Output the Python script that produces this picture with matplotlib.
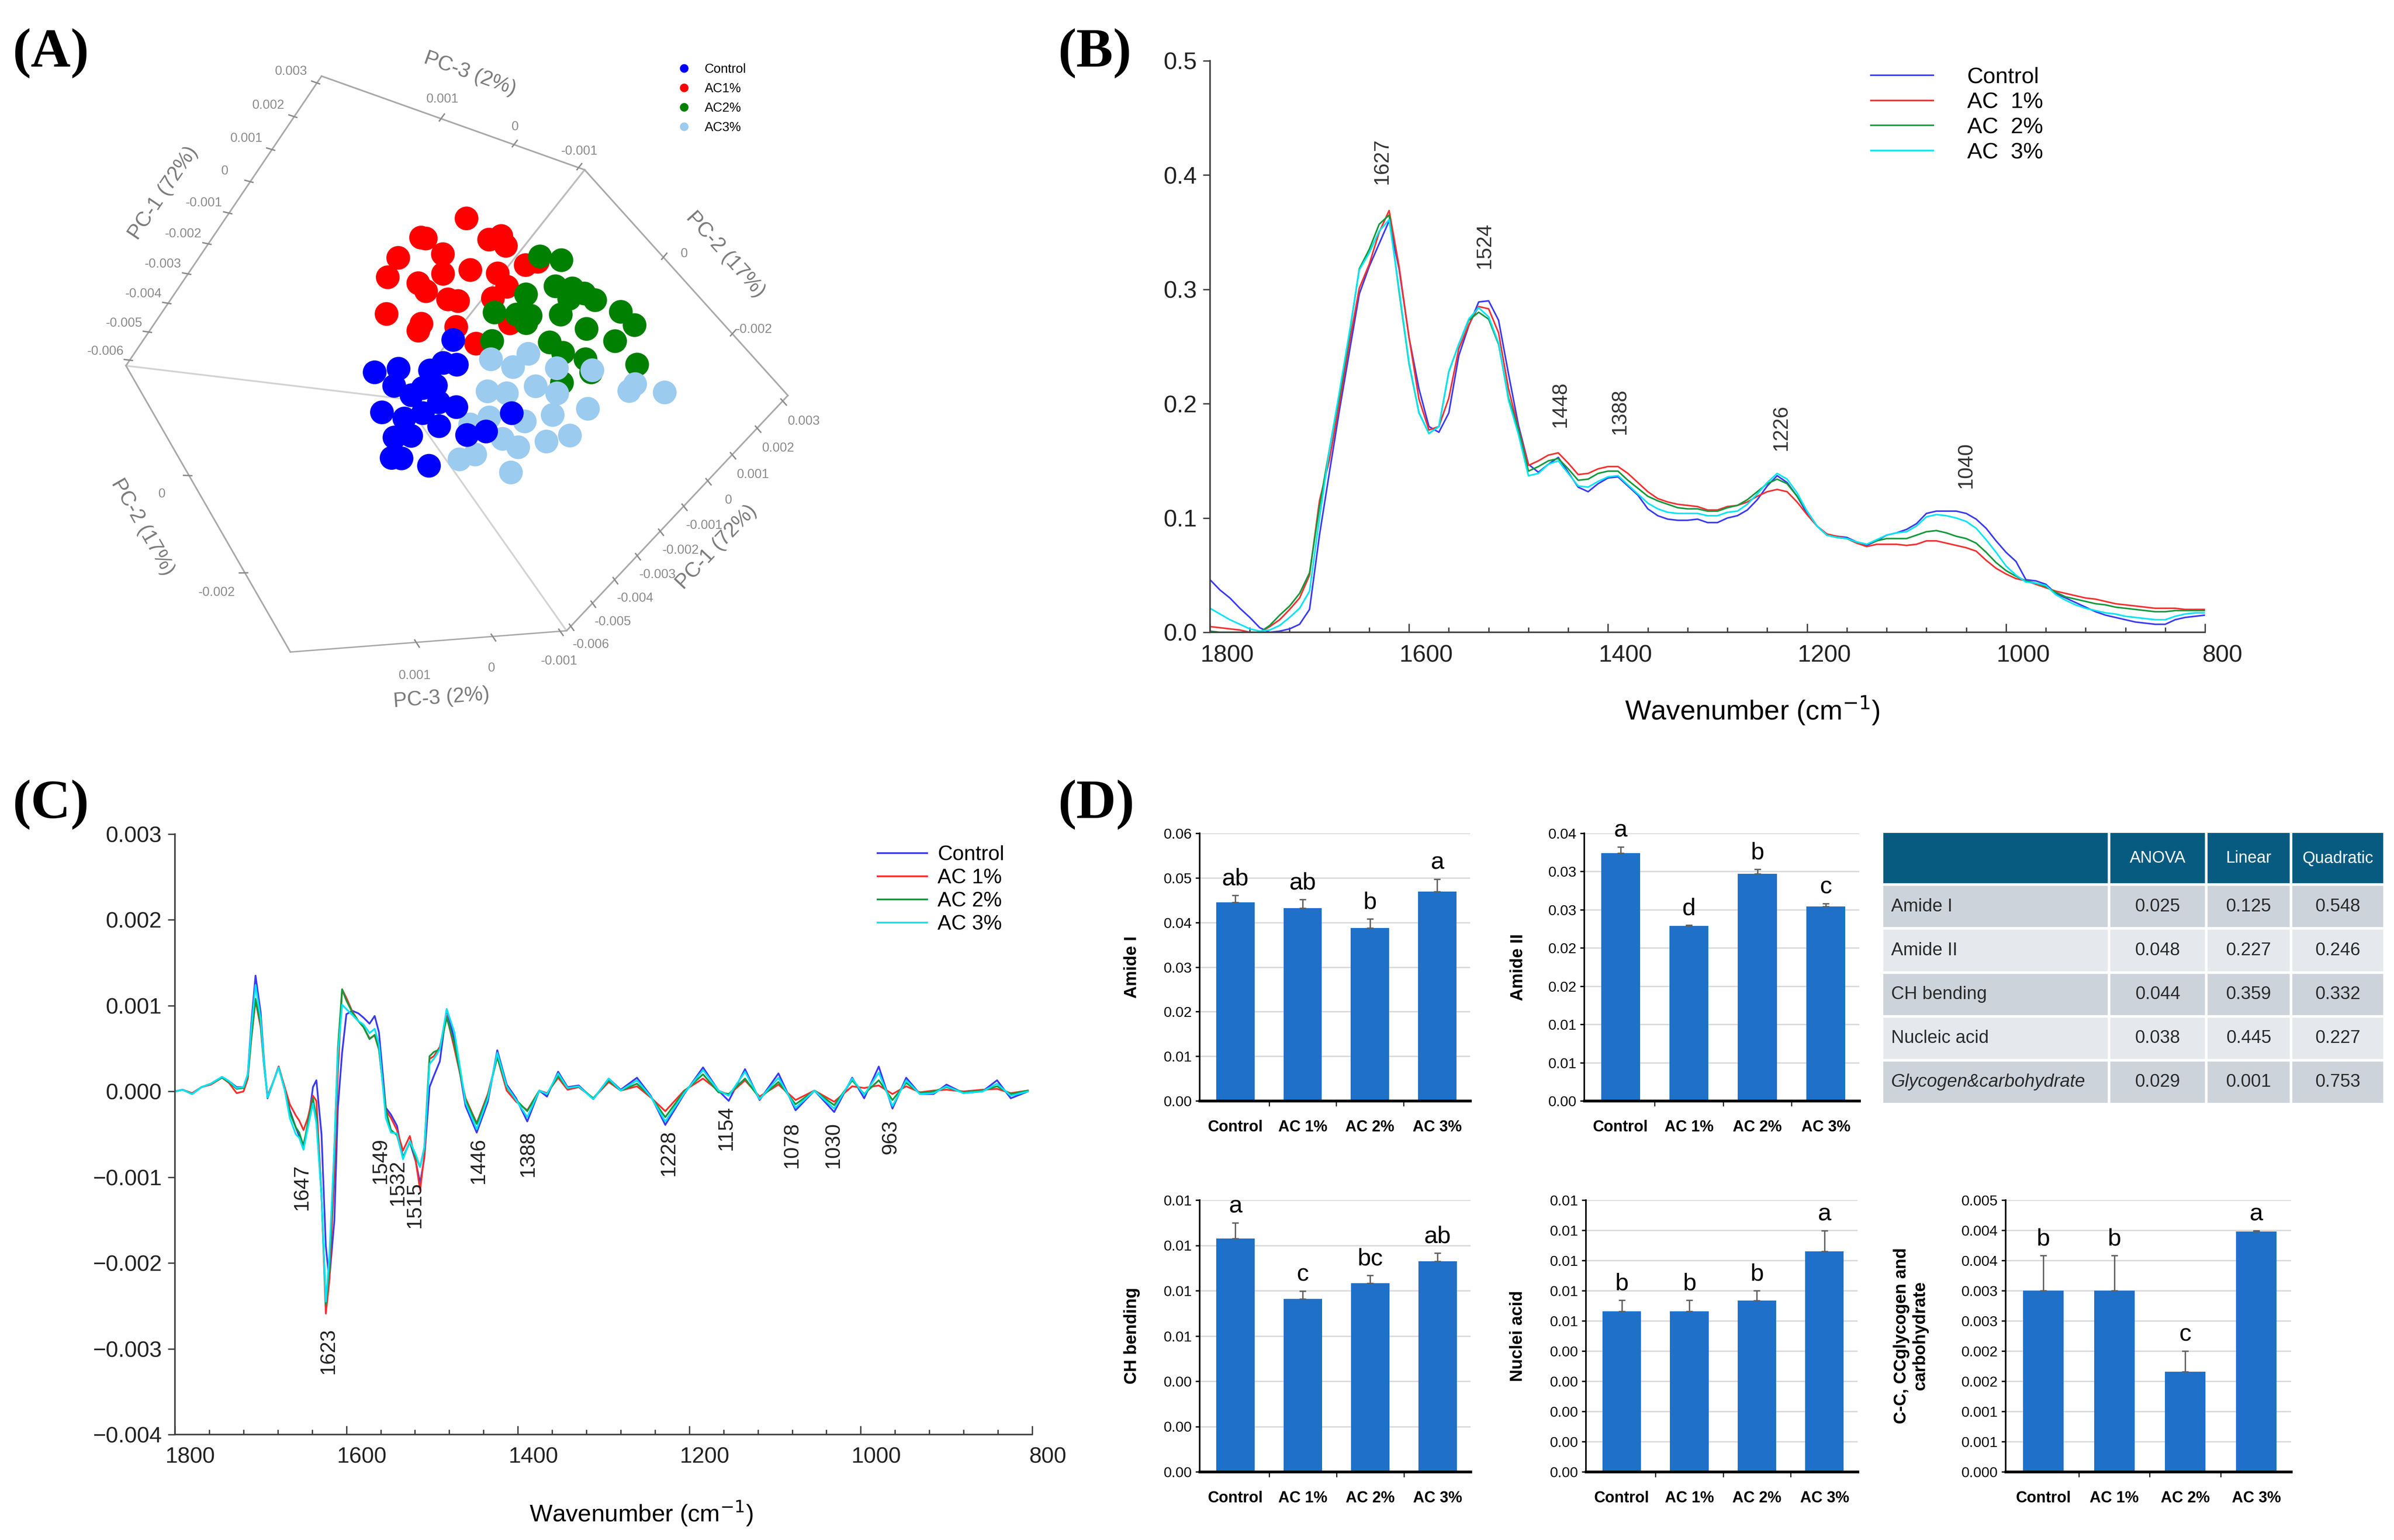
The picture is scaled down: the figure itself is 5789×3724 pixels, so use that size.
import numpy as np
import matplotlib
matplotlib.use("Agg")
import matplotlib.pyplot as plt
from matplotlib import transforms
from matplotlib.lines import Line2D
from matplotlib.table import Table
from matplotlib.ticker import MultipleLocator, FuncFormatter, FixedLocator
from decimal import Decimal, ROUND_HALF_UP

plt.rcParams["font.family"] = ["Liberation Sans", "DejaVu Sans"]

W, H = 5789, 3724

BLUE, RED, GREEN, CYAN = "#3a3af5", "#f53030", "#129a3c", "#00e4f5"
BAR = "#1f70c8"

# ---------------- (A) PCA scores (PC-1, PC-2, PC-3) ----------------
ctrl_pc1 = [-0.00170, -0.00416, -0.00363, -0.00301, -0.00237, -0.00191, -0.00490, -0.00396,
            -0.00336, -0.00281, -0.00441, -0.00382, -0.00302, -0.00503, -0.00437, -0.00364,
            -0.00326, -0.00256, -0.00549, -0.00504, -0.00463, -0.00177, -0.00407, -0.00321]
ctrl_pc2 = [0.00080, 0.00158, 0.00135, 0.00092, 0.00066, 0.00028, 0.00104, 0.00090,
            0.00067, 0.00035, 0.00057, 0.00033, -0.00001, 0.00048, 0.00009, -0.00011,
            -0.00055, -0.00092, 0.00025, -0.00005, -0.00047, -0.00096, 0.00119, 0.00021]
ctrl_pc3 = [0.0001, 0.0002, 0.0001, 0.0000, 0.0001, 0.0002, 0.0001, 0.0000,
            0.0001, 0.0002, 0.0001, 0.0001, 0.0000, 0.0001, 0.0002, 0.0001,
            0.0000, 0.0001, 0.0001, 0.0002, 0.0001, 0.0000, 0.0001, 0.0001]

ac1_pc1 = [0.00176, 0.00037, 0.00056, 0.00062, 0.00175, 0.00219, 0.00224, 0.00095, 0.00135,
           0.00220, 0.00250, -0.00091, -0.00060, -0.00041, -0.00005, 0.00029, 0.00082, 0.00145,
           -0.00175, -0.00144, -0.00093, -0.00034, -0.00018, 0.00076, 0.00028, -0.00032]
ac1_pc2 = [0.00114, 0.00172, 0.00150, 0.00108, 0.00066, 0.00037, 0.00004, 0.00044, 0.00011,
           -0.00035, -0.00049, 0.00156, 0.00127, 0.00089, 0.00043, 0.00011, -0.00012, -0.00033,
           0.00126, 0.00066, 0.00041, -0.00004, -0.00055, -0.00068, 0.00083, 0.00163]
ac1_pc3 = [0.0008, 0.0007, 0.0009, 0.0008, 0.0007, 0.0008, 0.0009, 0.0008, 0.0007,
           0.0008, 0.0008, 0.0009, 0.0007, 0.0008, 0.0008, 0.0009, 0.0007, 0.0008,
           0.0008, 0.0007, 0.0009, 0.0008, 0.0008, 0.0007, 0.0008, 0.0009]

ac2_pc1 = [0.00182, 0.00232, 0.00083, 0.00150, 0.00194, 0.00210, 0.00232, 0.00253,
           0.00247, -0.00021, 0.00026, 0.00068, 0.00123, 0.00141, 0.00191, 0.00196,
           -0.00064, 0.00032, 0.00048, 0.00098, 0.00006, 0.00100, 0.00050, 0.00169]
ac2_pc2 = [0.00047, -0.00004, 0.00021, -0.00002, -0.00043, -0.00067, -0.00103, -0.00142,
           -0.00166, 0.00048, 0.00010, -0.00026, -0.00058, -0.00102, -0.00169, -0.00227,
           0.00002, -0.00016, -0.00097, -0.00149, -0.00144, -0.00184, -0.00076, -0.00051]
ac2_pc3 = [0.0001, 0.0002, 0.0001, 0.0000, 0.0001, 0.0001, 0.0002, 0.0001,
           0.0000, 0.0001, 0.0001, 0.0002, 0.0001, 0.0000, 0.0001, 0.0001,
           0.0002, 0.0001, 0.0000, 0.0001, 0.0001, 0.0002, 0.0001, 0.0001]

ac3_pc1 = [-0.00129, -0.00091, -0.00018, 0.00007, -0.00211, -0.00153, -0.00073, -0.00023,
           0.00081, 0.00111, 0.00193, -0.00299, -0.00223, -0.00161, -0.00085, -0.00009,
           -0.00082, -0.00146, -0.00207, -0.00245, -0.00285, -0.00407, -0.00341, 0.00147]
ac3_pc2 = [0.00006, -0.00039, -0.00058, -0.00107, -0.00018, -0.00063, -0.00098, -0.00150,
           -0.00161, -0.00227, -0.00286, -0.00046, -0.00079, -0.00126, -0.00159, -0.00191,
           -0.00209, -0.00183, -0.00160, -0.00115, -0.00170, -0.00063, -0.00093, -0.00237]
ac3_pc3 = [0.0000, 0.0000, 0.0001, 0.0000, -0.0001, 0.0000, 0.0000, 0.0001,
           0.0000, -0.0001, 0.0000, 0.0000, 0.0001, 0.0000, 0.0000, -0.0001,
           0.0000, 0.0000, 0.0001, 0.0000, 0.0000, -0.0001, 0.0000, 0.0000]

# ---------------- (B) mean absorbance spectra ----------------
wn_b = np.arange(1800, 799, -10)
ctrl_b = [0.046, 0.037, 0.030, 0.021, 0.013, 0.004, 0.000, 0.001, 0.003, 0.007,
          0.020, 0.085, 0.140, 0.194, 0.245, 0.296, 0.320, 0.340, 0.360, 0.318,
          0.258, 0.213, 0.180, 0.175, 0.192, 0.242, 0.268, 0.289, 0.290, 0.273,
          0.226, 0.181, 0.147, 0.140, 0.147, 0.153, 0.140, 0.127, 0.123, 0.130,
          0.135, 0.136, 0.128, 0.120, 0.108, 0.102, 0.099, 0.098, 0.098, 0.099,
          0.096, 0.096, 0.100, 0.102, 0.107, 0.116, 0.128, 0.137, 0.131, 0.119,
          0.104, 0.093, 0.085, 0.084, 0.083, 0.079, 0.076, 0.080, 0.085, 0.087,
          0.090, 0.095, 0.104, 0.106, 0.106, 0.106, 0.104, 0.099, 0.091, 0.080,
          0.070, 0.062, 0.046, 0.045, 0.042, 0.034, 0.030, 0.026, 0.022, 0.018,
          0.015, 0.013, 0.011, 0.009, 0.008, 0.007, 0.007, 0.011, 0.013, 0.014,
          0.015]
ac1_b = [0.005, 0.004, 0.003, 0.002, 0.000, 0.000, 0.005, 0.011, 0.020, 0.030,
         0.050, 0.115, 0.151, 0.200, 0.253, 0.301, 0.322, 0.350, 0.369, 0.320,
         0.258, 0.204, 0.177, 0.180, 0.205, 0.248, 0.269, 0.285, 0.283, 0.262,
         0.213, 0.178, 0.146, 0.150, 0.155, 0.157, 0.148, 0.138, 0.139, 0.143,
         0.145, 0.145, 0.139, 0.131, 0.123, 0.117, 0.114, 0.112, 0.111, 0.110,
         0.107, 0.107, 0.110, 0.111, 0.114, 0.119, 0.123, 0.125, 0.123, 0.114,
         0.103, 0.093, 0.086, 0.084, 0.082, 0.078, 0.075, 0.077, 0.077, 0.077,
         0.076, 0.077, 0.080, 0.080, 0.078, 0.076, 0.074, 0.071, 0.063, 0.056,
         0.051, 0.047, 0.045, 0.042, 0.039, 0.036, 0.034, 0.032, 0.030, 0.029,
         0.027, 0.025, 0.024, 0.023, 0.022, 0.021, 0.021, 0.021, 0.020, 0.020,
         0.020]
ac2_b = [0.001, 0.000, 0.000, 0.000, 0.000, 0.000, 0.006, 0.015, 0.023, 0.034,
         0.052, 0.110, 0.160, 0.207, 0.260, 0.318, 0.335, 0.357, 0.365, 0.298,
         0.235, 0.192, 0.174, 0.180, 0.228, 0.252, 0.273, 0.280, 0.274, 0.252,
         0.205, 0.177, 0.141, 0.145, 0.150, 0.152, 0.143, 0.133, 0.134, 0.139,
         0.141, 0.141, 0.133, 0.126, 0.119, 0.115, 0.112, 0.109, 0.108, 0.108,
         0.106, 0.106, 0.109, 0.111, 0.116, 0.123, 0.130, 0.134, 0.130, 0.119,
         0.106, 0.093, 0.085, 0.083, 0.082, 0.079, 0.077, 0.080, 0.082, 0.082,
         0.082, 0.085, 0.088, 0.089, 0.087, 0.084, 0.082, 0.078, 0.070, 0.061,
         0.054, 0.049, 0.045, 0.043, 0.040, 0.035, 0.031, 0.029, 0.027, 0.025,
         0.024, 0.022, 0.021, 0.020, 0.019, 0.018, 0.018, 0.019, 0.019, 0.019,
         0.019]
ac3_b = [0.021, 0.016, 0.011, 0.007, 0.003, 0.001, 0.002, 0.006, 0.013, 0.021,
         0.036, 0.100, 0.160, 0.210, 0.262, 0.317, 0.332, 0.351, 0.361, 0.300,
         0.236, 0.192, 0.174, 0.180, 0.228, 0.252, 0.274, 0.284, 0.276, 0.253,
         0.203, 0.173, 0.137, 0.139, 0.147, 0.150, 0.139, 0.128, 0.127, 0.132,
         0.136, 0.137, 0.129, 0.121, 0.113, 0.108, 0.105, 0.104, 0.104, 0.104,
         0.102, 0.102, 0.105, 0.106, 0.112, 0.121, 0.131, 0.139, 0.134, 0.122,
         0.106, 0.093, 0.085, 0.083, 0.082, 0.079, 0.077, 0.081, 0.085, 0.087,
         0.088, 0.093, 0.101, 0.103, 0.102, 0.100, 0.097, 0.091, 0.081, 0.070,
         0.058, 0.050, 0.044, 0.043, 0.041, 0.033, 0.028, 0.024, 0.021, 0.019,
         0.017, 0.016, 0.014, 0.013, 0.012, 0.011, 0.011, 0.014, 0.016, 0.017,
         0.017]
peaks_b = [1627, 1524, 1448, 1388, 1226, 1040]
peaks_b_y = [0.392, 0.318, 0.179, 0.173, 0.159, 0.126]

# ---------------- (C) second-derivative spectra (x 1e-3) ----------------
wn_c = [1800, 1791, 1780, 1769, 1758, 1745, 1737, 1728, 1720, 1715,
        1711, 1706, 1700, 1696, 1692, 1685, 1679, 1672, 1666, 1659,
        1655, 1650, 1645, 1639, 1635, 1629, 1624, 1620, 1614, 1610,
        1605, 1600, 1593, 1586, 1580, 1573, 1567, 1562, 1554, 1548,
        1541, 1534, 1526, 1519, 1514, 1509, 1503, 1498, 1491, 1483,
        1474, 1461, 1448, 1435, 1424, 1413, 1402, 1389, 1375, 1366,
        1353, 1342, 1329, 1312, 1294, 1280, 1261, 1245, 1228, 1206,
        1184, 1166, 1154, 1135, 1118, 1096, 1076, 1054, 1031, 1010,
        996, 979, 963, 947, 931, 915, 900, 880, 858, 841,
        825, 805]
ctrl_c = [0.00, 0.02, -0.03, 0.05, 0.09, 0.17, 0.12, 0.05, 0.05, 0.20,
          0.78, 1.35, 0.92, 0.35, -0.08, 0.12, 0.29, 0.03, -0.22, -0.42,
          -0.52, -0.62, -0.40, 0.05, 0.13, -0.50, -1.80, -2.20, -1.50, -0.20,
          0.45, 0.90, 0.94, 0.91, 0.86, 0.79, 0.88, 0.69, -0.19, -0.27,
          -0.40, -0.77, -0.59, -0.82, -1.07, -0.77, 0.05, 0.18, 0.35, 0.96,
          0.60, -0.17, -0.48, -0.12, 0.48, 0.08, -0.08, -0.35, 0.01, -0.06,
          0.23, 0.05, 0.07, -0.09, 0.15, 0.02, 0.16, -0.05, -0.39, -0.03,
          0.28, 0.01, -0.11, 0.26, -0.10, 0.21, -0.22, 0.01, -0.24, 0.16,
          -0.08, 0.29, -0.20, 0.16, -0.03, -0.03, 0.08, -0.02, 0.00, 0.13,
          -0.08, 0.00]
ac1_c = [0.00, 0.02, -0.02, 0.05, 0.08, 0.16, 0.10, -0.02, 0.00, 0.15,
         0.60, 1.06, 0.75, 0.30, -0.05, 0.12, 0.29, 0.05, -0.15, -0.28,
         -0.34, -0.45, -0.31, -0.05, -0.11, -1.22, -2.59, -2.22, -0.94, 0.21,
         1.19, 1.09, 0.93, 0.82, 0.75, 0.62, 0.65, 0.49, -0.22, -0.31,
         -0.45, -0.69, -0.52, -0.82, -1.15, -0.74, 0.38, 0.41, 0.52, 0.88,
         0.50, -0.08, -0.37, -0.03, 0.40, 0.01, -0.12, -0.22, 0.01, -0.02,
         0.16, 0.02, 0.05, -0.08, 0.11, 0.01, 0.06, -0.07, -0.23, 0.01,
         0.15, 0.01, -0.04, 0.13, -0.06, 0.08, -0.10, 0.01, -0.12, 0.06,
         0.04, 0.07, -0.03, 0.06, -0.01, 0.01, 0.02, 0.00, 0.02, 0.03,
         -0.02, 0.01]
ac2_c = [0.00, 0.02, -0.03, 0.05, 0.09, 0.16, 0.11, 0.03, 0.04, 0.18,
         0.62, 1.08, 0.78, 0.30, -0.07, 0.12, 0.28, 0.02, -0.25, -0.42,
         -0.48, -0.64, -0.37, -0.08, -0.31, -1.22, -2.48, -2.08, -0.65, 0.49,
         1.19, 1.06, 0.92, 0.82, 0.75, 0.61, 0.66, 0.49, -0.22, -0.45,
         -0.51, -0.77, -0.59, -0.77, -0.88, -0.65, 0.41, 0.46, 0.49, 0.86,
         0.55, -0.10, -0.38, -0.05, 0.40, 0.05, -0.10, -0.23, 0.01, -0.03,
         0.18, 0.04, 0.06, -0.08, 0.13, 0.01, 0.09, -0.06, -0.30, 0.00,
         0.20, -0.01, -0.03, 0.15, -0.08, 0.11, -0.15, 0.01, -0.16, 0.13,
         -0.03, 0.13, -0.10, 0.10, -0.02, 0.00, 0.05, -0.01, 0.01, 0.06,
         -0.03, 0.01]
ac3_c = [0.00, 0.02, -0.03, 0.05, 0.09, 0.17, 0.12, 0.04, 0.05, 0.20,
         0.72, 1.24, 0.85, 0.32, -0.07, 0.12, 0.28, 0.02, -0.31, -0.50,
         -0.54, -0.68, -0.42, -0.14, -0.37, -1.22, -2.45, -1.95, -0.65, 0.43,
         1.01, 0.96, 0.89, 0.82, 0.78, 0.68, 0.73, 0.55, -0.31, -0.48,
         -0.49, -0.79, -0.58, -0.74, -0.88, -0.65, 0.32, 0.38, 0.49, 0.96,
         0.69, -0.13, -0.44, -0.08, 0.45, 0.06, -0.10, -0.30, 0.01, -0.03,
         0.21, 0.04, 0.06, -0.09, 0.15, 0.01, 0.13, -0.06, -0.35, -0.02,
         0.25, 0.01, -0.05, 0.23, -0.09, 0.16, -0.19, 0.01, -0.20, 0.15,
         -0.04, 0.22, -0.17, 0.13, -0.03, -0.02, 0.06, -0.02, 0.00, 0.09,
         -0.05, 0.00]
peaks_c = [1647, 1623, 1549, 1532, 1515, 1446, 1388, 1228, 1154, 1078, 1030, 963]
peaks_c_x = [1652, 1621, 1560, 1540, 1520, 1446, 1388, 1224, 1157, 1080, 1032, 965]
peaks_c_y = [-0.85, -2.76, -0.54, -0.80, -1.06, -0.54, -0.46, -0.45, -0.17, -0.36, -0.36, -0.33]

# ---------------- (D) band areas and p-values ----------------
groups_d = ["Control", "AC 1%", "AC 2%", "AC 3%"]
amide1 = [0.0445, 0.0432, 0.0388, 0.0469]
amide1_err = [0.0016, 0.0020, 0.0020, 0.0028]
amide1_let = ["ab", "ab", "b", "a"]
amide2 = [0.0324, 0.0229, 0.0297, 0.0254]
amide2_err = [0.0008, 0.0001, 0.0006, 0.0004]
amide2_let = ["a", "d", "b", "c"]
ch_bend = [0.01030, 0.00763, 0.00833, 0.00930]
ch_bend_err = [0.00070, 0.00036, 0.00035, 0.00037]
ch_bend_let = ["a", "c", "bc", "ab"]
nucleic = [0.00532, 0.00532, 0.00567, 0.00730]
nucleic_err = [0.00037, 0.00037, 0.00033, 0.00068]
nucleic_let = ["b", "b", "b", "a"]
glyco = [0.00300, 0.00300, 0.00166, 0.00398]
glyco_err = [0.00058, 0.00058, 0.00034, 0.00001]
glyco_let = ["b", "b", "c", "a"]

table_cols = ["", "ANOVA", "Linear", "Quadratic"]
table_rows = ["Amide I", "Amide II", "CH bending", "Nucleic acid", "Glycogen&carbohydrate"]
anova_p = ["0.025", "0.048", "0.044", "0.038", "0.029"]
linear_p = ["0.125", "0.227", "0.359", "0.445", "0.001"]
quad_p = ["0.548", "0.246", "0.332", "0.227", "0.753"]


def rect(x0, y0, x1, y1):
    return [x0 / W, 1 - y1 / H, (x1 - x0) / W, (y1 - y0) / H]


def half_up(nd):
    q = Decimal(1).scaleb(-nd)

    def f(v, pos):
        v = float(v)
        if abs(v) < 1e-12:
            v = 0.0
        return str(Decimal(f"{v:.6f}").quantize(q, rounding=ROUND_HALF_UP))
    return FuncFormatter(f)


fig = plt.figure(figsize=(W / 300, H / 300), dpi=300)

# ---------------- panel A ----------------
ax3 = fig.add_axes(rect(28, 30, 2128, 1860), projection="3d", proj_type="persp", focal_length=0.35)
ax3.set_facecolor("none")
ax3.computed_zorder = False
ax3.view_init(elev=50, azim=-52, roll=82)
ax3.set_xlim(-0.0062, 0.0032)
ax3.set_ylim(-0.0035, 0.0025)
ax3.set_zlim(-0.0011, 0.0024)
ax3.set_box_aspect((1, 1, 1.15), zoom=0.85)
ax3.scatter(ac1_pc1, ac1_pc2, ac1_pc3, s=190, c="#ff0000", depthshade=False, edgecolors="none")
ax3.scatter(ac2_pc1, ac2_pc2, ac2_pc3, s=190, c="#008000", depthshade=False, edgecolors="none")
ax3.scatter(ac3_pc1, ac3_pc2, ac3_pc3, s=190, c="#9ccbf0", depthshade=False, edgecolors="none")
ax3.scatter(ctrl_pc1, ctrl_pc2, ctrl_pc3, s=190, c="#0000ff", depthshade=False, edgecolors="none")
ax3.grid(False)
ax3.set_xticks([-0.006, -0.005, -0.004, -0.003, -0.002, -0.001, 0, 0.001, 0.002, 0.003])
ax3.set_yticks([-0.002, 0])
ax3.set_zticks([-0.001, 0, 0.001])
fmt3 = FuncFormatter(lambda v, p: "0" if abs(v) < 1e-12 else f"{v:g}")
for axis, lab in ((ax3.xaxis, "PC-1 (72%)"), (ax3.yaxis, "PC-2 (17%)"), (ax3.zaxis, "PC-3 (2%)")):
    axis.set_major_formatter(fmt3)
    axis.pane.fill = False
    axis.pane.set_edgecolor("#a8a8a8")
    axis.line.set_color("#a8a8a8")
    axis.set_label_text(lab, color="#7a7a7a", fontsize=12)
    try:
        axis.set_ticks_position("both")
        axis.set_label_position("both")
    except Exception:
        pass
ax3.tick_params(colors="#8a8a8a", labelsize=7.5)

leg_a = [Line2D([], [], marker="o", ls="none", color=c, markersize=5, markeredgewidth=0)
         for c in ("#0000ff", "#ff0000", "#008000", "#9ccbf0")]
fig.legend(leg_a, ["Control", "AC1%", "AC2%", "AC3%"], loc="upper left",
           bbox_to_anchor=(1610 / W, 1 - 140 / H), frameon=False, fontsize=7.5,
           handletextpad=0.6, labelspacing=0.55, borderaxespad=0)


# ---------------- spectra helper ----------------
def style_spec(ax, step, offset_pt):
    ax.set_xlim(1800, 800)
    ax.xaxis.set_major_locator(MultipleLocator(200))
    ax.xaxis.set_minor_locator(MultipleLocator(40))
    ax.yaxis.set_major_locator(MultipleLocator(step))
    for s in ("top", "right"):
        ax.spines[s].set_visible(False)
    for s in ("left", "bottom"):
        ax.spines[s].set_color("#404040")
        ax.spines[s].set_linewidth(0.9)
    ax.tick_params(axis="x", which="major", direction="in", length=5, width=0.8,
                   colors="#404040", labelcolor="#222222", pad=7)
    ax.tick_params(axis="x", which="minor", direction="in", length=3, width=0.8, colors="#404040")
    ax.tick_params(axis="y", direction="out", length=4, width=0.8, colors="#404040",
                   labelcolor="#222222")
    off = transforms.ScaledTranslation(offset_pt / 72, 0, fig.dpi_scale_trans)
    for lab in ax.xaxis.get_majorticklabels():
        lab.set_transform(lab.get_transform() + off)


# ---------------- panel B ----------------
axb = fig.add_axes(rect(2926, 147, 5332, 1529))
for ys, col, lab in ((ctrl_b, BLUE, "Control"), (ac1_b, RED, "AC  1%"),
                     (ac2_b, GREEN, "AC  2%"), (ac3_b, CYAN, "AC  3%")):
    axb.plot(wn_b, ys, color=col, lw=0.9, label=lab)
axb.set_ylim(0, 0.5)
style_spec(axb, 0.1, 10)
axb.tick_params(labelsize=14)
for p, y in zip(peaks_b, peaks_b_y):
    axb.text(p, y, str(p), rotation=90, ha="center", va="bottom", fontsize=12, color="#333333")
axb.set_xlabel("Wavenumber (cm$^{-1}$)", fontsize=16)
axb.xaxis.set_label_coords(0.545, -0.108)
axb.legend(loc="upper left", bbox_to_anchor=(0.655, 1.005), frameon=False, fontsize=13,
           handlelength=2.8, handletextpad=1.5, labelspacing=0.2, borderaxespad=0)

# ---------------- panel C ----------------
axc = fig.add_axes(rect(423, 2017, 2496, 3469))
for ys, col, lab in ((ctrl_c, BLUE, "Control"), (ac1_c, RED, "AC 1%"),
                     (ac2_c, GREEN, "AC 2%"), (ac3_c, CYAN, "AC 3%")):
    axc.plot(wn_c, np.array(ys) * 1e-3, color=col, lw=1.0, label=lab)
axc.set_ylim(-0.004, 0.003)
style_spec(axc, 0.001, 9)
axc.yaxis.set_major_formatter(FuncFormatter(
    lambda v, p: ("0.000" if abs(v) < 1e-12 else f"{v:.3f}").replace("-", "\u2212")))
axc.tick_params(labelsize=13)
for t, x, y in zip(peaks_c, peaks_c_x, peaks_c_y):
    axc.text(x, y * 1e-3, str(t), rotation=90, ha="center", va="top", fontsize=12, color="#222222")
axc.set_xlabel("Wavenumber (cm$^{-1}$)", fontsize=14)
axc.xaxis.set_label_coords(0.544, -0.108)
axc.legend(loc="upper left", bbox_to_anchor=(0.81, 0.995), frameon=False, fontsize=12,
           handlelength=2.4, handletextpad=0.5, labelspacing=0.2, borderaxespad=0)


# ---------------- panel D bars ----------------
def bar_panel(px, vals, errs, letters, ylabel, ymax, step, nd, lab_x):
    ax = fig.add_axes(rect(*px))
    x = np.arange(len(groups_d))
    ax.bar(x, vals, width=0.57, color=BAR, zorder=2)
    ax.errorbar(x, vals, yerr=[np.zeros(len(vals)), errs], fmt="none", ecolor="#606060",
                elinewidth=0.8, capsize=2, capthick=0.8, zorder=3)
    ax.set_xlim(-0.53, 3.49)
    ax.set_ylim(0, ymax)
    ax.yaxis.set_major_locator(MultipleLocator(step))
    ax.yaxis.set_major_formatter(half_up(nd))
    ax.grid(axis="y", color="#d9d9d9", lw=0.8)
    ax.set_axisbelow(True)
    ax.set_xticks(x, groups_d)
    ax.xaxis.set_minor_locator(FixedLocator([0.5, 1.5, 2.5, 3.5]))
    ax.tick_params(axis="x", which="major", length=0, pad=11, labelsize=9)
    ax.tick_params(axis="x", which="minor", length=3, direction="out")
    ax.tick_params(axis="y", length=2.5, labelsize=8.5, pad=2)
    for s in ("top", "right"):
        ax.spines[s].set_visible(False)
    ax.spines["bottom"].set_linewidth(1.6)
    ax.spines["left"].set_linewidth(0.9)
    for lab in ax.get_xticklabels():
        lab.set_fontweight("bold")
    ax.set_ylabel(ylabel, fontsize=10, fontweight="bold")
    ax.yaxis.set_label_coords(lab_x, 0.5)
    for xi, v, e, t in zip(x, vals, errs, letters):
        ax.annotate(t, (xi, v + e), xytext=(0, 3), textcoords="offset points",
                    ha="center", va="bottom", fontsize=14)
    return ax


bar_panel((2901, 2015, 3555, 2662), amide1, amide1_err, amide1_let, "Amide I", 0.06, 0.01, 2, -0.22)
bar_panel((3831, 2015, 4496, 2662), amide2, amide2_err, amide2_let, "Amide II", 0.035, 0.005, 2, -0.21)
bar_panel((2901, 2902, 3556, 3559), ch_bend, ch_bend_err, ch_bend_let, "CH bending", 0.012, 0.002, 2, -0.22)
bar_panel((3835, 2902, 4492, 3559), nucleic, nucleic_err, nucleic_let, "Nuclei acid", 0.009, 0.001, 2, -0.22)
bar_panel((4850, 2902, 5540, 3559), glyco, glyco_err, glyco_let,
          "C-C, CCglycogen and\ncarbohydrate", 0.0045, 0.0005, 3, -0.27)

# ---------------- panel D table ----------------
tax = fig.add_axes(rect(4551, 2011, 5766, 2670))
tax.axis("off")
tbl = Table(tax, bbox=[0, 0, 1, 1])
col_w = [549, 235, 205, 226]
body = list(zip(table_rows, anova_p, linear_p, quad_p))
for c, name in enumerate(table_cols):
    cell = tbl.add_cell(0, c, col_w[c], 128, text=name, loc="center",
                        facecolor="#075b81", edgecolor="white")
    cell.get_text().set_color("white")
    cell.get_text().set_fontsize(9.5)
    cell.set_linewidth(1.5)
for r, row in enumerate(body, start=1):
    fc = "#cdd3da" if r % 2 == 1 else "#e5e8ec"
    for c, val in enumerate(row):
        cell = tbl.add_cell(r, c, col_w[c], 106, text=val, loc="left" if c == 0 else "center",
                            facecolor=fc, edgecolor="white")
        cell.PAD = 0.04
        cell.set_linewidth(1.5)
        cell.get_text().set_color("#2a2a2a")
        cell.get_text().set_fontsize(10.5)
        if r == 5 and c == 0:
            cell.get_text().set_style("italic")
tbl.auto_set_font_size(False)
tax.add_table(tbl)

# ---------------- panel letters ----------------
for txt, x, y in (("(A)", 30, 129), ("(B)", 2558, 129), ("(C)", 30, 1946), ("(D)", 2558, 1946)):
    fig.text(x / W, 1 - y / H, txt, fontsize=32, fontweight="bold", family="Liberation Serif",
             ha="left", va="center")

fig.savefig("out.png", dpi=300)
